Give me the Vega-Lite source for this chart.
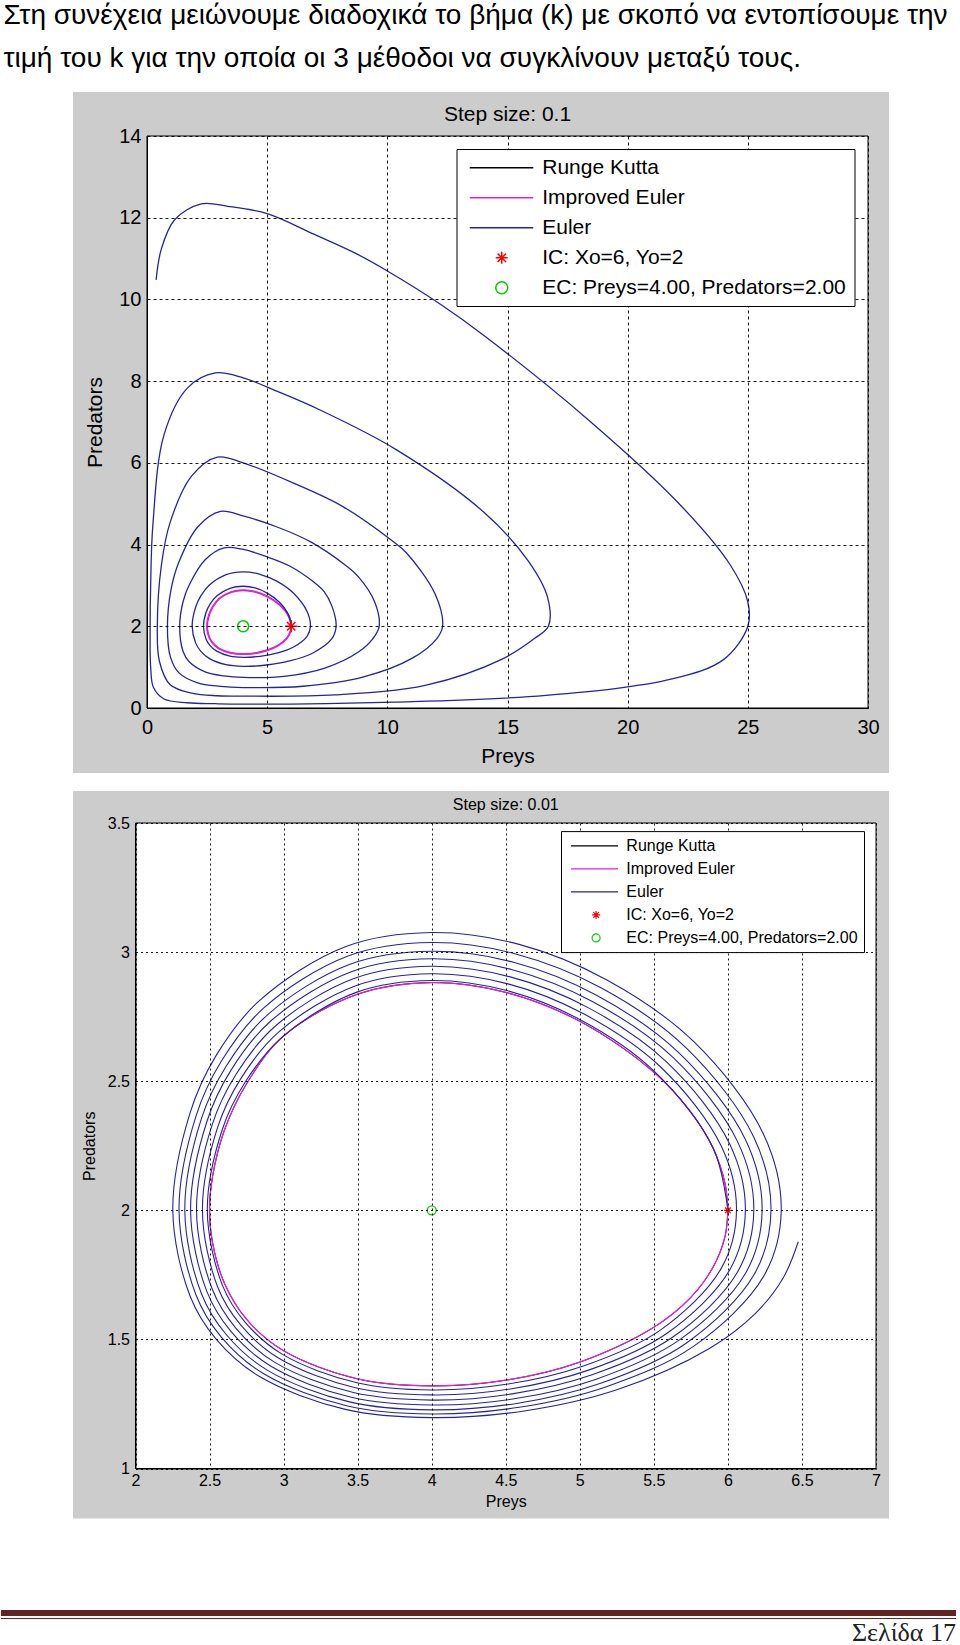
{
"$schema": "https://vega.github.io/schema/vega-lite/v6.json",
"padding": {"top": 2, "left": 0, "right": 0, "bottom": 0},
"background": "white",
"title": {"text": ["Στη συνέχεια μειώνουμε διαδοχικά το βήμα (k) με σκοπό να εντοπίσουμε την", "τιμή του k για την οποία οι 3 μέθοδοι να συγκλίνουν μεταξύ τους."], "anchor": "start", "frame": "bounds", "font": "Liberation Sans", "fontSize": 28, "fontWeight": "normal", "color": "black", "lineHeight": 43, "offset": 7, "dx": 3},
"datasets": {
"orbit": [{"i":0,"Preys":6,"Predators":2},{"i":1,"Preys":5.98,"Predators":2.105},{"i":2,"Preys":5.9,"Predators":2.24},{"i":3,"Preys":5.75,"Predators":2.38},{"i":4,"Preys":5.5,"Predators":2.535},{"i":5,"Preys":5,"Predators":2.732},{"i":6,"Preys":4.5,"Predators":2.844},{"i":7,"Preys":4,"Predators":2.882},{"i":8,"Preys":3.5,"Predators":2.837},{"i":9,"Preys":3,"Predators":2.675},{"i":10,"Preys":2.75,"Predators":2.49},{"i":11,"Preys":2.6,"Predators":2.31},{"i":12,"Preys":2.52,"Predators":2.13},{"i":13,"Preys":2.5,"Predators":2},{"i":14,"Preys":2.52,"Predators":1.875},{"i":15,"Preys":2.6,"Predators":1.718},{"i":16,"Preys":2.75,"Predators":1.578},{"i":17,"Preys":3,"Predators":1.456},{"i":18,"Preys":3.5,"Predators":1.347},{"i":19,"Preys":4,"Predators":1.32},{"i":20,"Preys":4.5,"Predators":1.342},{"i":21,"Preys":5,"Predators":1.412},{"i":22,"Preys":5.5,"Predators":1.547},{"i":23,"Preys":5.75,"Predators":1.663},{"i":24,"Preys":5.9,"Predators":1.78},{"i":25,"Preys":5.98,"Predators":1.897},{"i":26,"Preys":6,"Predators":2}],
"euler_step_0_1": [{"i":0,"Preys":6,"Predators":2},{"i":1,"Preys":5.9,"Predators":2.267},{"i":2,"Preys":5.5,"Predators":2.594},{"i":3,"Preys":5,"Predators":2.813},{"i":4,"Preys":4.5,"Predators":2.938},{"i":5,"Preys":4,"Predators":2.98},{"i":6,"Preys":3.45,"Predators":2.93},{"i":7,"Preys":2.9,"Predators":2.739},{"i":8,"Preys":2.625,"Predators":2.544},{"i":9,"Preys":2.46,"Predators":2.344},{"i":10,"Preys":2.35,"Predators":2},{"i":11,"Preys":2.46,"Predators":1.685},{"i":12,"Preys":2.625,"Predators":1.528},{"i":13,"Preys":2.9,"Predators":1.391},{"i":14,"Preys":3.45,"Predators":1.27},{"i":15,"Preys":4,"Predators":1.24},{"i":16,"Preys":4.7,"Predators":1.265},{"i":17,"Preys":5.4,"Predators":1.342},{"i":18,"Preys":6.1,"Predators":1.494},{"i":19,"Preys":6.66,"Predators":1.754},
{"i":20,"Preys":6.8,"Predators":2},{"i":21,"Preys":6.66,"Predators":2.362},{"i":22,"Preys":6.1,"Predators":2.807},{"i":23,"Preys":5.4,"Predators":3.104},{"i":24,"Preys":4.7,"Predators":3.273},{"i":25,"Preys":4,"Predators":3.33},{"i":26,"Preys":3.294,"Predators":3.262},{"i":27,"Preys":2.587,"Predators":3.003},{"i":28,"Preys":2.234,"Predators":2.739},{"i":29,"Preys":2.022,"Predators":2.467},{"i":30,"Preys":1.88,"Predators":2},{"i":31,"Preys":2.022,"Predators":1.594},{"i":32,"Preys":2.234,"Predators":1.392},{"i":33,"Preys":2.587,"Predators":1.215},{"i":34,"Preys":3.294,"Predators":1.059},{"i":35,"Preys":4,"Predators":1.02},{"i":36,"Preys":4.968,"Predators":1.052},{"i":37,"Preys":5.935,"Predators":1.152},{"i":38,"Preys":6.903,"Predators":1.347},{"i":39,"Preys":7.677,"Predators":1.683},
{"i":40,"Preys":7.87,"Predators":2},{"i":41,"Preys":7.69,"Predators":2.5},{"i":42,"Preys":7.37,"Predators":2.85},{"i":43,"Preys":6.9,"Predators":3.1},{"i":44,"Preys":5.935,"Predators":3.475},{"i":45,"Preys":4.97,"Predators":3.705},{"i":46,"Preys":4,"Predators":3.88},{"i":47,"Preys":3.21,"Predators":3.92},{"i":48,"Preys":2.42,"Predators":3.63},{"i":49,"Preys":1.756,"Predators":3.01},{"i":50,"Preys":1.5,"Predators":2.6},{"i":51,"Preys":1.36,"Predators":2},{"i":52,"Preys":1.505,"Predators":1.375},{"i":53,"Preys":1.756,"Predators":1.132},{"i":54,"Preys":2.42,"Predators":0.884},{"i":55,"Preys":3.21,"Predators":0.786},{"i":56,"Preys":4,"Predators":0.75},{"i":57,"Preys":5.698,"Predators":0.775},{"i":58,"Preys":7.396,"Predators":0.977},{"i":59,"Preys":8.811,"Predators":1.377},{"i":60,"Preys":9.4,"Predators":1.7},
{"i":61,"Preys":9.66,"Predators":2},{"i":62,"Preys":9.47,"Predators":2.6},{"i":63,"Preys":8.78,"Predators":3.22},{"i":64,"Preys":8.245,"Predators":3.5},{"i":65,"Preys":6.83,"Predators":4.06},{"i":66,"Preys":5.415,"Predators":4.43},{"i":67,"Preys":4,"Predators":4.7},{"i":68,"Preys":3.055,"Predators":4.81},{"i":69,"Preys":2.11,"Predators":4.43},{"i":70,"Preys":1.32,"Predators":3.56},{"i":71,"Preys":1.0,"Predators":2.9},{"i":72,"Preys":0.85,"Predators":2},{"i":73,"Preys":0.974,"Predators":1.25},{"i":74,"Preys":1.32,"Predators":0.866},{"i":75,"Preys":2.11,"Predators":0.615},{"i":76,"Preys":3.055,"Predators":0.53},{"i":77,"Preys":4,"Predators":0.5},{"i":78,"Preys":6.49,"Predators":0.532},{"i":79,"Preys":8.98,"Predators":0.756},{"i":80,"Preys":11.06,"Predators":1.226},{"i":81,"Preys":12.06,"Predators":1.7},
{"i":82,"Preys":12.3,"Predators":2},{"i":83,"Preys":11.98,"Predators":2.8},{"i":84,"Preys":10.79,"Predators":3.8},{"i":85,"Preys":10.23,"Predators":4.08},{"i":86,"Preys":8.15,"Predators":4.93},{"i":87,"Preys":6.075,"Predators":5.51},{"i":88,"Preys":4,"Predators":6.0},{"i":89,"Preys":2.93,"Predators":6.14},{"i":90,"Preys":1.86,"Predators":5.68},{"i":91,"Preys":0.966,"Predators":4.55},{"i":92,"Preys":0.6,"Predators":3.5},{"i":93,"Preys":0.43,"Predators":2},{"i":94,"Preys":0.516,"Predators":1.145},{"i":95,"Preys":0.966,"Predators":0.569},{"i":96,"Preys":1.86,"Predators":0.363},{"i":97,"Preys":2.93,"Predators":0.3},{"i":98,"Preys":4,"Predators":0.29},{"i":99,"Preys":7.81,"Predators":0.319},{"i":100,"Preys":11.62,"Predators":0.561},{"i":101,"Preys":14.8,"Predators":1.204},{"i":102,"Preys":16.12,"Predators":1.7},
{"i":103,"Preys":16.7,"Predators":2},{"i":104,"Preys":16.67,"Predators":2.7},{"i":105,"Preys":15.86,"Predators":3.6},{"i":106,"Preys":14.02,"Predators":4.79},{"i":107,"Preys":10.35,"Predators":6.33},{"i":108,"Preys":7.175,"Predators":7.3},{"i":109,"Preys":5.5,"Predators":7.73},{"i":110,"Preys":4,"Predators":8.08},{"i":111,"Preys":2.84,"Predators":8.2},{"i":112,"Preys":1.68,"Predators":7.83},{"i":113,"Preys":0.71,"Predators":6.69},{"i":114,"Preys":0.244,"Predators":4.48},{"i":115,"Preys":0.152,"Predators":3.0},{"i":116,"Preys":0.13,"Predators":2},{"i":117,"Preys":0.152,"Predators":1.0},{"i":118,"Preys":0.27,"Predators":0.5},{"i":119,"Preys":0.71,"Predators":0.22},{"i":120,"Preys":1.68,"Predators":0.128},{"i":121,"Preys":2.84,"Predators":0.105},{"i":122,"Preys":4,"Predators":0.095},{"i":123,"Preys":10.3,"Predators":0.145},{"i":124,"Preys":16.6,"Predators":0.31},{"i":125,"Preys":21.85,"Predators":0.71},{"i":126,"Preys":24,"Predators":1.19},
{"i":127,"Preys":25,"Predators":2},{"i":128,"Preys":25,"Predators":2.6},{"i":129,"Preys":24.27,"Predators":3.5},{"i":130,"Preys":22.14,"Predators":5.0},{"i":131,"Preys":18.37,"Predators":7.05},{"i":132,"Preys":14.06,"Predators":9.1},{"i":133,"Preys":12.24,"Predators":9.87},{"i":134,"Preys":10.02,"Predators":10.69},{"i":135,"Preys":8.64,"Predators":11.14},{"i":136,"Preys":6.97,"Predators":11.59},{"i":137,"Preys":5,"Predators":12.1},{"i":138,"Preys":3.36,"Predators":12.28},{"i":139,"Preys":2.26,"Predators":12.34},{"i":140,"Preys":1.15,"Predators":11.95},{"i":141,"Preys":0.59,"Predators":11.22},{"i":142,"Preys":0.38,"Predators":10.48}],
"euler_step_0_01": [{"i":0,"Preys":6,"Predators":2},{"i":1,"Preys":5.9,"Predators":2.242},{"i":2,"Preys":5.5,"Predators":2.54},{"i":3,"Preys":5,"Predators":2.739},{"i":4,"Preys":4.5,"Predators":2.852},{"i":5,"Preys":4,"Predators":2.89},{"i":6,"Preys":3.495,"Predators":2.845},{"i":7,"Preys":2.99,"Predators":2.671},{"i":8,"Preys":2.738,"Predators":2.494},{"i":9,"Preys":2.586,"Predators":2.313},{"i":10,"Preys":2.485,"Predators":2},{"i":11,"Preys":2.586,"Predators":1.711},{"i":12,"Preys":2.738,"Predators":1.568},{"i":13,"Preys":2.99,"Predators":1.443},{"i":14,"Preys":3.495,"Predators":1.332},{"i":15,"Preys":4,"Predators":1.304},{"i":16,"Preys":4.515,"Predators":1.327},{"i":17,"Preys":5.029,"Predators":1.398},{"i":18,"Preys":5.544,"Predators":1.536},{"i":19,"Preys":5.955,"Predators":1.775},
{"i":20,"Preys":6.058,"Predators":2},{"i":21,"Preys":5.955,"Predators":2.249},{"i":22,"Preys":5.544,"Predators":2.556},{"i":23,"Preys":5.029,"Predators":2.76},{"i":24,"Preys":4.515,"Predators":2.877},{"i":25,"Preys":4,"Predators":2.916},{"i":26,"Preys":3.484,"Predators":2.869},{"i":27,"Preys":2.968,"Predators":2.691},{"i":28,"Preys":2.71,"Predators":2.509},{"i":29,"Preys":2.555,"Predators":2.322},{"i":30,"Preys":2.452,"Predators":2},{"i":31,"Preys":2.555,"Predators":1.703},{"i":32,"Preys":2.71,"Predators":1.556},{"i":33,"Preys":2.968,"Predators":1.427},{"i":34,"Preys":3.484,"Predators":1.313},{"i":35,"Preys":4,"Predators":1.285},{"i":36,"Preys":4.53,"Predators":1.308},{"i":37,"Preys":5.059,"Predators":1.381},{"i":38,"Preys":5.589,"Predators":1.524},{"i":39,"Preys":6.012,"Predators":1.769},
{"i":40,"Preys":6.118,"Predators":2},{"i":41,"Preys":6.012,"Predators":2.257},{"i":42,"Preys":5.589,"Predators":2.573},{"i":43,"Preys":5.059,"Predators":2.784},{"i":44,"Preys":4.53,"Predators":2.904},{"i":45,"Preys":4,"Predators":2.945},{"i":46,"Preys":3.471,"Predators":2.897},{"i":47,"Preys":2.941,"Predators":2.712},{"i":48,"Preys":2.677,"Predators":2.525},{"i":49,"Preys":2.518,"Predators":2.332},{"i":50,"Preys":2.412,"Predators":2},{"i":51,"Preys":2.518,"Predators":1.695},{"i":52,"Preys":2.677,"Predators":1.544},{"i":53,"Preys":2.941,"Predators":1.411},{"i":54,"Preys":3.471,"Predators":1.294},{"i":55,"Preys":4,"Predators":1.265},{"i":56,"Preys":4.544,"Predators":1.289},{"i":57,"Preys":5.088,"Predators":1.364},{"i":58,"Preys":5.631,"Predators":1.51},{"i":59,"Preys":6.066,"Predators":1.762},
{"i":60,"Preys":6.175,"Predators":2},{"i":61,"Preys":6.066,"Predators":2.265},{"i":62,"Preys":5.631,"Predators":2.591},{"i":63,"Preys":5.088,"Predators":2.808},{"i":64,"Preys":4.544,"Predators":2.932},{"i":65,"Preys":4,"Predators":2.974},{"i":66,"Preys":3.457,"Predators":2.924},{"i":67,"Preys":2.915,"Predators":2.734},{"i":68,"Preys":2.643,"Predators":2.541},{"i":69,"Preys":2.481,"Predators":2.342},{"i":70,"Preys":2.372,"Predators":2},{"i":71,"Preys":2.481,"Predators":1.687},{"i":72,"Preys":2.643,"Predators":1.532},{"i":73,"Preys":2.915,"Predators":1.396},{"i":74,"Preys":3.457,"Predators":1.276},{"i":75,"Preys":4,"Predators":1.246},{"i":76,"Preys":4.558,"Predators":1.27},{"i":77,"Preys":5.116,"Predators":1.347},{"i":78,"Preys":5.673,"Predators":1.498},{"i":79,"Preys":6.119,"Predators":1.756},
{"i":80,"Preys":6.231,"Predators":2},{"i":81,"Preys":6.119,"Predators":2.273},{"i":82,"Preys":5.673,"Predators":2.608},{"i":83,"Preys":5.116,"Predators":2.832},{"i":84,"Preys":4.558,"Predators":2.96},{"i":85,"Preys":4,"Predators":3.003},{"i":86,"Preys":3.444,"Predators":2.952},{"i":87,"Preys":2.889,"Predators":2.756},{"i":88,"Preys":2.611,"Predators":2.557},{"i":89,"Preys":2.444,"Predators":2.353},{"i":90,"Preys":2.333,"Predators":2},{"i":91,"Preys":2.444,"Predators":1.679},{"i":92,"Preys":2.611,"Predators":1.52},{"i":93,"Preys":2.889,"Predators":1.381},{"i":94,"Preys":3.444,"Predators":1.258},{"i":95,"Preys":4,"Predators":1.227},{"i":96,"Preys":4.573,"Predators":1.252},{"i":97,"Preys":5.146,"Predators":1.331},{"i":98,"Preys":5.718,"Predators":1.485},{"i":99,"Preys":6.176,"Predators":1.75},
{"i":100,"Preys":6.291,"Predators":2},{"i":101,"Preys":6.176,"Predators":2.282},{"i":102,"Preys":5.718,"Predators":2.629},{"i":103,"Preys":5.146,"Predators":2.861},{"i":104,"Preys":4.573,"Predators":2.992},{"i":105,"Preys":4,"Predators":3.037},{"i":106,"Preys":3.431,"Predators":2.984},{"i":107,"Preys":2.863,"Predators":2.782},{"i":108,"Preys":2.578,"Predators":2.576},{"i":109,"Preys":2.408,"Predators":2.364},{"i":110,"Preys":2.294,"Predators":2},{"i":111,"Preys":2.408,"Predators":1.673},{"i":112,"Preys":2.578,"Predators":1.51},{"i":113,"Preys":2.863,"Predators":1.368},{"i":114,"Preys":3.431,"Predators":1.242},{"i":115,"Preys":4,"Predators":1.211},{"i":116,"Preys":4.59,"Predators":1.237},{"i":117,"Preys":5.18,"Predators":1.317},{"i":118,"Preys":5.77,"Predators":1.474},{"i":119,"Preys":6.242,"Predators":1.745},
{"i":120,"Preys":6.36,"Predators":2},{"i":121,"Preys":6.242,"Predators":2.293},{"i":122,"Preys":5.77,"Predators":2.653},{"i":123,"Preys":5.18,"Predators":2.893},{"i":124,"Preys":4.59,"Predators":3.03},{"i":125,"Preys":4,"Predators":3.076},{"i":126,"Preys":3.417,"Predators":3.021},{"i":127,"Preys":2.835,"Predators":2.811},{"i":128,"Preys":2.543,"Predators":2.598},{"i":129,"Preys":2.369,"Predators":2.378},{"i":130,"Preys":2.252,"Predators":2},{"i":131,"Preys":2.369,"Predators":1.667},{"i":132,"Preys":2.543,"Predators":1.502},{"i":133,"Preys":2.835,"Predators":1.357},{"i":134,"Preys":3.417,"Predators":1.229},{"i":135,"Preys":4,"Predators":1.197},{"i":136,"Preys":4.625,"Predators":1.223},{"i":137,"Preys":5.25,"Predators":1.305},{"i":138,"Preys":5.875,"Predators":1.465},{"i":139,"Preys":6.188,"Predators":1.602},{"i":140,"Preys":6.375,"Predators":1.74},{"i":141,"Preys":6.475,"Predators":1.878}],
"conditions": [{"kind": "IC", "Preys": 6, "Predators": 2}, {"kind": "EC", "Preys": 4, "Predators": 2}],
"methods": [{"method": "Runge Kutta"}, {"method": "Improved Euler"}, {"method": "Euler"}, {"method": "IC: Xo=6, Yo=2"}, {"method": "EC: Preys=4.00, Predators=2.00"}]
},
"columns": 1,
"spacing": 0,
"align": "none",
"center": true,
"bounds": "full",
"resolve": {"scale": {"color": "independent", "shape": "independent"}, "legend": {"color": "independent", "shape": "independent"}},
"concat": [
{
"width": 721, "height": 572,
"title": {"text": "Step size: 0.1", "frame": "group", "fontSize": 21, "fontWeight": "normal", "font": "Liberation Sans", "color": "black", "offset": -45, "zindex": 1},
"layer": [
{"data": {"values": [{}]}, "mark": {"type": "rect", "fill": "white"},
 "encoding": {
  "x": {"datum": -6.075, "type": "quantitative", "scale": {"domain": [0, 30], "nice": false, "zero": false}, "axis": {"title": "Preys", "values": [0, 5, 10, 15, 20, 25, 30], "format": "d", "labelFontSize": 20, "labelPadding": 9, "titleFontSize": 21, "titlePadding": 8, "zindex": 1}},
  "x2": {"datum": 33.87},
  "y": {"datum": 15.37, "type": "quantitative", "scale": {"domain": [0, 14], "nice": false, "zero": false}, "axis": {"title": "Predators", "values": [0, 2, 4, 6, 8, 10, 12, 14], "format": "d", "labelFontSize": 20, "labelPadding": 6, "titleFontSize": 21, "titlePadding": 13, "zindex": 1}},
  "y2": {"datum": -1.787}}},
{"data": {"values": [{}]}, "mark": {"type": "rect", "fill": "#cccccc"},
 "encoding": {"x": {"datum": -3.079, "type": "quantitative"}, "x2": {"datum": 30.874}, "y": {"datum": 15.077, "type": "quantitative"}, "y2": {"datum": -1.591}}},
{"data": {"values": [{}]}, "mark": {"type": "rect", "fill": "white", "stroke": "black", "strokeWidth": 1},
 "encoding": {"x": {"datum": 0, "type": "quantitative"}, "x2": {"datum": 30}, "y": {"datum": 14, "type": "quantitative"}, "y2": {"datum": 0}}},
{"data": {"name": "orbit"}, "mark": {"type": "line", "color": "#000000", "strokeWidth": 1, "interpolate": "catmull-rom"},
 "encoding": {"x": {"field": "Preys", "type": "quantitative"}, "y": {"field": "Predators", "type": "quantitative"}, "order": {"field": "i", "type": "quantitative"}}},
{"data": {"name": "orbit"}, "mark": {"type": "line", "color": "#dd22dd", "strokeWidth": 2, "interpolate": "catmull-rom"},
 "encoding": {"x": {"field": "Preys", "type": "quantitative"}, "y": {"field": "Predators", "type": "quantitative"}, "order": {"field": "i", "type": "quantitative"}}},
{"data": {"name": "euler_step_0_1"}, "mark": {"type": "line", "color": "#24249e", "strokeWidth": 1.3, "interpolate": "catmull-rom"},
 "encoding": {"x": {"field": "Preys", "type": "quantitative"}, "y": {"field": "Predators", "type": "quantitative"}, "order": {"field": "i", "type": "quantitative"}}},
{"data": {"name": "conditions"}, "transform": [{"filter": "datum.kind === 'IC'"}],
 "mark": {"type": "point", "shape": "M-1,0H1M0,-1V1M-0.7,-0.7L0.7,0.7M-0.7,0.7L0.7,-0.7", "size": 144, "filled": false, "color": "#ff0000", "strokeWidth": 1.5, "opacity": 1},
 "encoding": {"x": {"field": "Preys", "type": "quantitative"}, "y": {"field": "Predators", "type": "quantitative"}}},
{"data": {"name": "conditions"}, "transform": [{"filter": "datum.kind === 'EC'"}],
 "mark": {"type": "point", "shape": "circle", "size": 121, "filled": false, "color": "#00cc00", "strokeWidth": 1.5, "opacity": 1},
 "encoding": {"x": {"field": "Preys", "type": "quantitative"}, "y": {"field": "Predators", "type": "quantitative"}}},
{"data": {"name": "methods"},
 "mark": {"type": "point", "opacity": 0, "size": 400, "filled": false, "strokeWidth": 1.5},
 "encoding": {
  "x": {"datum": 15, "type": "quantitative"}, "y": {"datum": 7, "type": "quantitative"},
  "color": {"field": "method", "type": "nominal",
   "scale": {"domain": ["Runge Kutta", "Improved Euler", "Euler", "IC: Xo=6, Yo=2", "EC: Preys=4.00, Predators=2.00"], "range": ["#000000", "#dd22dd", "#24249e", "#ff0000", "#00cc00"]},
   "legend": {"title": null, "orient": "none", "legendX": 309.5, "legendY": 13, "padding": 7.75, "fillColor": "white", "strokeColor": "black", "cornerRadius": 0, "labelFontSize": 21, "labelFont": "Liberation Sans", "labelColor": "black", "labelOffset": 56, "rowPadding": 9, "symbolStrokeWidth": 1.5, "symbolSize": 400, "labelLimit": 600, "zindex": 1}},
  "shape": {"field": "method", "type": "nominal",
   "scale": {"domain": ["Runge Kutta", "Improved Euler", "Euler", "IC: Xo=6, Yo=2", "EC: Preys=4.00, Predators=2.00"], "range": ["M-0.55,0H5.8", "M-0.55,0H5.8", "M-0.55,0H5.8", "M2.05,0H3.25M2.65,-0.6V0.6M2.23,-0.42L3.07,0.42M2.23,0.42L3.07,-0.42", "M3.25,0A0.6,0.6,0,1,1,2.05,0A0.6,0.6,0,1,1,3.25,0"]},
   "legend": {"title": null, "orient": "none", "legendX": 309.5, "legendY": 13, "padding": 7.75, "fillColor": "white", "strokeColor": "black", "cornerRadius": 0, "labelFontSize": 21, "labelFont": "Liberation Sans", "labelColor": "black", "labelOffset": 56, "rowPadding": 9, "symbolStrokeWidth": 1.5, "symbolSize": 400, "labelLimit": 600, "zindex": 1}}}}
]
},
{
"width": 740.5, "height": 645.5,
"title": {"text": "Step size: 0.01", "frame": "group", "fontSize": 16, "fontWeight": "normal", "font": "Liberation Sans", "color": "black", "offset": -30.9, "dx": -11.5, "zindex": 1},
"layer": [
{"data": {"values": [{}]}, "mark": {"type": "rect", "fill": "white"},
 "encoding": {
  "x": {"datum": 1.0918, "type": "quantitative", "scale": {"domain": [2, 7], "range": [-11.5, 729], "nice": false, "zero": false}, "axis": {"title": "Preys", "values": [2, 2.5, 3, 3.5, 4, 4.5, 5, 5.5, 6, 6.5, 7], "format": "~g", "labelFontSize": 16, "labelPadding": 3.6, "titleFontSize": 16, "titlePadding": 5, "gridDash": [2, 3], "zindex": 1}},
  "x2": {"datum": 7.5739},
  "y": {"datum": 3.6569, "type": "quantitative", "scale": {"domain": [1, 3.5], "nice": false, "zero": false}, "axis": {"title": "Predators", "values": [1, 1.5, 2, 2.5, 3, 3.5], "format": "~g", "offset": 11.5, "labelFontSize": 16, "labelPadding": 6, "titleFontSize": 16, "titlePadding": 10, "gridDash": [2, 3], "zindex": 1}},
  "y2": {"datum": 0.6398}}},
{"data": {"values": [{}]}, "mark": {"type": "rect", "fill": "#cccccc"},
 "encoding": {"x": {"datum": 1.578, "type": "quantitative"}, "x2": {"datum": 7.088}, "y": {"datum": 3.624, "type": "quantitative"}, "y2": {"datum": 0.8064}}},
{"data": {"values": [{}]}, "mark": {"type": "rect", "fill": "white", "stroke": "black", "strokeWidth": 1},
 "encoding": {"x": {"datum": 2, "type": "quantitative"}, "x2": {"datum": 7}, "y": {"datum": 3.5, "type": "quantitative"}, "y2": {"datum": 1}}},
{"data": {"name": "orbit"}, "mark": {"type": "line", "color": "#000000", "strokeWidth": 1, "interpolate": "catmull-rom"},
 "encoding": {"x": {"field": "Preys", "type": "quantitative"}, "y": {"field": "Predators", "type": "quantitative"}, "order": {"field": "i", "type": "quantitative"}}},
{"data": {"name": "orbit"}, "mark": {"type": "line", "color": "#dd22dd", "strokeWidth": 1.3, "interpolate": "catmull-rom"},
 "encoding": {"x": {"field": "Preys", "type": "quantitative"}, "y": {"field": "Predators", "type": "quantitative"}, "order": {"field": "i", "type": "quantitative"}}},
{"data": {"name": "euler_step_0_01"}, "mark": {"type": "line", "color": "#24249e", "strokeWidth": 1.1, "interpolate": "catmull-rom"},
 "encoding": {"x": {"field": "Preys", "type": "quantitative"}, "y": {"field": "Predators", "type": "quantitative"}, "order": {"field": "i", "type": "quantitative"}}},
{"data": {"name": "conditions"}, "transform": [{"filter": "datum.kind === 'IC'"}],
 "mark": {"type": "point", "shape": "M-1,0H1M0,-1V1M-0.7,-0.7L0.7,0.7M-0.7,0.7L0.7,-0.7", "size": 64, "filled": false, "color": "#ff0000", "strokeWidth": 1.3, "opacity": 1},
 "encoding": {"x": {"field": "Preys", "type": "quantitative"}, "y": {"field": "Predators", "type": "quantitative"}}},
{"data": {"name": "conditions"}, "transform": [{"filter": "datum.kind === 'EC'"}],
 "mark": {"type": "point", "shape": "circle", "size": 81, "filled": false, "color": "#00cc00", "strokeWidth": 1.3, "opacity": 1},
 "encoding": {"x": {"field": "Preys", "type": "quantitative"}, "y": {"field": "Predators", "type": "quantitative"}}},
{"data": {"name": "methods"},
 "mark": {"type": "point", "opacity": 0, "size": 256, "filled": false, "strokeWidth": 1.2},
 "encoding": {
  "x": {"datum": 4.5, "type": "quantitative"}, "y": {"datum": 2.2, "type": "quantitative"},
  "color": {"field": "method", "type": "nominal",
   "scale": {"domain": ["Runge Kutta", "Improved Euler", "Euler", "IC: Xo=6, Yo=2", "EC: Preys=4.00, Predators=2.00"], "range": ["#000000", "#dd22dd", "#24249e", "#ff0000", "#00cc00"]},
   "legend": {"title": null, "orient": "none", "legendX": 414, "legendY": 8.1, "padding": 5.85, "fillColor": "white", "strokeColor": "black", "cornerRadius": 0, "labelFontSize": 16, "labelFont": "Liberation Sans", "labelColor": "black", "labelOffset": 41.5, "rowPadding": 6, "symbolStrokeWidth": 1.2, "symbolSize": 256, "labelLimit": 600, "zindex": 1}},
  "shape": {"field": "method", "type": "nominal",
   "scale": {"domain": ["Runge Kutta", "Improved Euler", "Euler", "IC: Xo=6, Yo=2", "EC: Preys=4.00, Predators=2.00"], "range": ["M-0.6,0H5.27", "M-0.6,0H5.27", "M-0.6,0H5.27", "M2.03,0H3.03M2.53,-0.5V0.5M2.18,-0.35L2.88,0.35M2.18,0.35L2.88,-0.35", "M3.03,0A0.5,0.5,0,1,1,2.03,0A0.5,0.5,0,1,1,3.03,0"]},
   "legend": {"title": null, "orient": "none", "legendX": 414, "legendY": 8.1, "padding": 5.85, "fillColor": "white", "strokeColor": "black", "cornerRadius": 0, "labelFontSize": 16, "labelFont": "Liberation Sans", "labelColor": "black", "labelOffset": 41.5, "rowPadding": 6, "symbolStrokeWidth": 1.2, "symbolSize": 256, "labelLimit": 600, "zindex": 1}}}}
]
},
{
"width": 814, "height": 85,
"layer": [
{"data": {"values": [{}]}, "mark": {"type": "rect", "fill": "white"},
 "encoding": {"x": {"datum": 0, "type": "quantitative", "scale": {"domain": [0, 960], "range": [-146, 814], "nice": false, "zero": false}, "axis": null}, "x2": {"datum": 960}, "y": {"datum": 0, "type": "quantitative", "scale": {"domain": [85, 0], "nice": false, "zero": false}, "axis": null}, "y2": {"datum": 85}}},
{"data": {"values": [{}]}, "mark": {"type": "rect", "fill": "#622423"},
 "encoding": {"x": {"datum": 0, "type": "quantitative"}, "x2": {"datum": 955}, "y": {"datum": 48, "type": "quantitative"}, "y2": {"datum": 54}}},
{"data": {"values": [{}]}, "mark": {"type": "rule", "color": "#622423", "strokeWidth": 1.2},
 "encoding": {"x": {"datum": 0, "type": "quantitative"}, "x2": {"datum": 955}, "y": {"datum": 56.5, "type": "quantitative"}}},
{"data": {"values": [{"page": "Σελίδα 17"}]}, "mark": {"type": "text", "align": "right", "baseline": "alphabetic", "font": "Liberation Serif", "fontSize": 26, "color": "#222222"},
 "encoding": {"x": {"datum": 955, "type": "quantitative"}, "y": {"datum": 78.5, "type": "quantitative"}, "text": {"field": "page", "type": "nominal"}}}
]
}
],
"config": {
 "font": "Liberation Sans",
 "view": {"stroke": null},
 "axis": {"grid": true, "gridColor": "black", "gridDash": [3, 3], "gridOpacity": 1, "gridWidth": 0.9, "domain": true, "domainColor": "black", "domainWidth": 1, "ticks": false, "labelColor": "black", "labelFont": "Liberation Sans", "titleColor": "black", "titleFont": "Liberation Sans", "titleFontWeight": "normal", "labelFlush": false, "labelOverlap": false, "labelBound": false}
}
}
